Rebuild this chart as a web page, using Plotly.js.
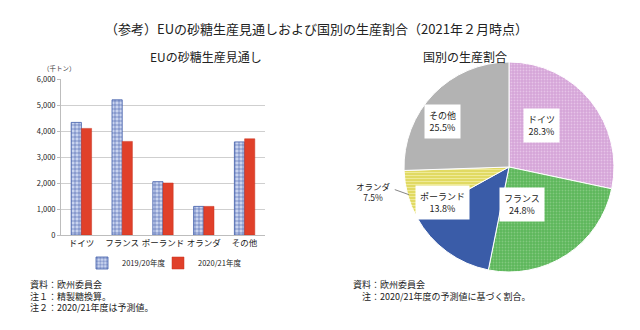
<!DOCTYPE html>
<html><head><meta charset="utf-8">
<script src="https://cdn.plot.ly/plotly-3.0.1.min.js"></script>
<style>html,body{margin:0;padding:0;background:#fff;}#chart{width:640px;height:330px;}</style>
</head><body><div id="chart"></div>
<script>
// ---- data ----
var categories = ['ドイツ', 'フランス', 'ポーランド', 'オランダ', 'その他'];
var seriesNames = ['2019/20年度', '2020/21年度'];
var prod2019 = [4330, 5200, 2050, 1100, 3580];
var prod2020 = [4100, 3600, 2000, 1100, 3700];
var yTicks = [0, 1000, 2000, 3000, 4000, 5000, 6000];
var yTickLabels = ['0', '1,000', '2,000', '3,000', '4,000', '5,000', '6,000'];
var pieLabels = ['ドイツ', 'フランス', 'ポーランド', 'オランダ', 'その他'];
var pieShares = [28.3, 24.8, 13.8, 7.5, 25.5];

var FONT = 'Noto Sans CJK JP, Noto Sans, sans-serif';
var W = 640, H = 330;
function px(x){return x / W;}
function py(y){return 1 - y / H;}

var barTrace1 = {
  type: 'bar', x: categories, y: prod2019, name: seriesNames[0], legend: 'legend',
  marker: {color: '#c9d4ef', line: {color: '#3e5aa8', width: 0.8},
    pattern: {shape: '+', fgcolor: '#3e5aa8', bgcolor: '#c9d4ef', size: 4, solidity: 0.25}},
  xaxis: 'x', yaxis: 'y', hoverinfo: 'none'
};
var barTrace2 = {
  type: 'bar', x: categories, y: prod2020, name: seriesNames[1], legend: 'legend2',
  marker: {color: '#e0402a', line: {color: '#c8321e', width: 0.5}},
  xaxis: 'x', yaxis: 'y', hoverinfo: 'none'
};

// pie geometry
var pieDom = {x: [px(404), px(614)], y: [py(272), py(62)]};
var cx = 509, cy = 167, R = 105;
var pieColors = ['#d5a5d8', '#5db75b', '#3a5ca8', '#e1da63', '#b3b3b3'];
var pieFg = ['#e6c3e8', '#82c97e', '#3a5ca8', '#f1ec9e', '#b3b3b3'];
var pieShapes = ['.', '.', '', '-', ''];
var pieTrace = {
  type: 'pie', labels: pieLabels, values: pieShares, sort: false,
  direction: 'clockwise', rotation: 0, domain: pieDom,
  textinfo: 'none', hoverinfo: 'none', showlegend: false,
  marker: {colors: pieColors, line: {color: '#ffffff', width: 1},
    pattern: {shape: pieShapes, fgcolor: pieFg, bgcolor: pieColors, size: 3, solidity: 0.3}}
};

var annotations = [
  {text: '（参考）EUの砂糖生産見通しおよび国別の生産割合（2021年２月時点）', x: px(316), y: py(17), xref: 'paper', yref: 'paper', showarrow: false, font: {size: 13, color: '#222', family: FONT}},
  {text: 'EUの砂糖生産見通し', x: px(148), y: py(46), xref: 'paper', yref: 'paper', showarrow: false, font: {size: 12, color: '#222', family: FONT}},
  {text: '国別の生産割合', x: px(509), y: py(46), xref: 'paper', yref: 'paper', showarrow: false, font: {size: 12, color: '#222', family: FONT}},
  {text: '（千トン）', x: px(42), y: py(62), xref: 'paper', yref: 'paper', showarrow: false, borderpad: 0, font: {size: 6.5, color: '#333', family: FONT}},
  {text: '資料：欧州委員会<br>注１：精製糖換算。<br>注２：2020/21年度は予測値。', x: px(28), y: py(276), xref: 'paper', yref: 'paper', xanchor: 'left', yanchor: 'top', align: 'left', showarrow: false, font: {size: 9, color: '#222', family: FONT}},
  {text: '資料：欧州委員会<br>　注：2020/21年度の予測値に基づく割合。', x: px(351), y: py(276), xref: 'paper', yref: 'paper', xanchor: 'left', yanchor: 'top', align: 'left', showarrow: false, font: {size: 9, color: '#222', family: FONT}}
];

// pie data labels computed from the data
var total = pieShares.reduce(function(a, b){return a + b;}, 0);
var cum = 0;
var shapes = [];
pieShares.forEach(function(v, i){
  var mid = (cum + v / 2) / total * 2 * Math.PI;
  cum += v;
  var sx = Math.sin(mid), sy = -Math.cos(mid);
  var txt = pieLabels[i] + '<br>' + v.toFixed(1) + '%';
  if (v < 10) {
    var ex = cx + R * 0.99 * sx, ey = cy + R * 0.99 * sy;
    var lx = ex - 14, ly = ey - 5;
    shapes.push({type: 'line', xref: 'paper', yref: 'paper', x0: px(ex), y0: py(ey), x1: px(lx), y1: py(ly), line: {color: '#666', width: 0.8}});
    annotations.push({text: txt, x: px(lx - 2), y: py(ly + 2), xref: 'paper', yref: 'paper', xanchor: 'right', yanchor: 'middle', align: 'center', showarrow: false, font: {size: 8.5, color: '#222', family: FONT}});
  } else {
    var r = 0.63;
    annotations.push({text: txt, x: px(cx + R * r * sx), y: py(cy + R * r * sy), xref: 'paper', yref: 'paper', showarrow: false, align: 'center', bgcolor: '#ffffff', borderpad: 4, font: {size: 9, color: '#222', family: FONT}});
  }
});

var legendBase = {orientation: 'h', y: py(263), xanchor: 'left', yanchor: 'middle', font: {size: 7.5, family: FONT, color: '#222'}, itemwidth: 30, bgcolor: 'rgba(0,0,0,0)'};
var legend1 = Object.assign({}, legendBase, {x: px(82)});
var legend2 = Object.assign({}, legendBase, {x: px(158)});

var layout = {
  width: W, height: H, margin: {l: 0, r: 0, t: 0, b: 0},
  paper_bgcolor: '#fff', plot_bgcolor: '#fff',
  font: {family: FONT, color: '#222'},
  barmode: 'group', bargap: 0.5, bargroupgap: 0,
  xaxis: {domain: [px(61), px(265)], showline: true, linecolor: '#bdbdbd', linewidth: 1, ticks: '', tickfont: {size: 8.5, family: FONT, color: '#222'}, fixedrange: true},
  yaxis: {domain: [py(235), py(79)], range: [0, 6000], tickvals: yTicks, ticktext: yTickLabels, showgrid: true, gridcolor: '#cfcfcf', gridwidth: 1, showline: true, linecolor: '#bdbdbd', ticks: 'outside', ticklen: 3, tickcolor: '#bdbdbd', tickfont: {size: 7.5, family: FONT, color: '#222'}, zeroline: false, fixedrange: true},
  showlegend: true,
  legend: legend1, legend2: legend2,
  annotations: annotations, shapes: shapes
};

Plotly.newPlot('chart', [barTrace1, barTrace2, pieTrace], layout, {staticPlot: true, displayModeBar: false});
</script></body></html>
